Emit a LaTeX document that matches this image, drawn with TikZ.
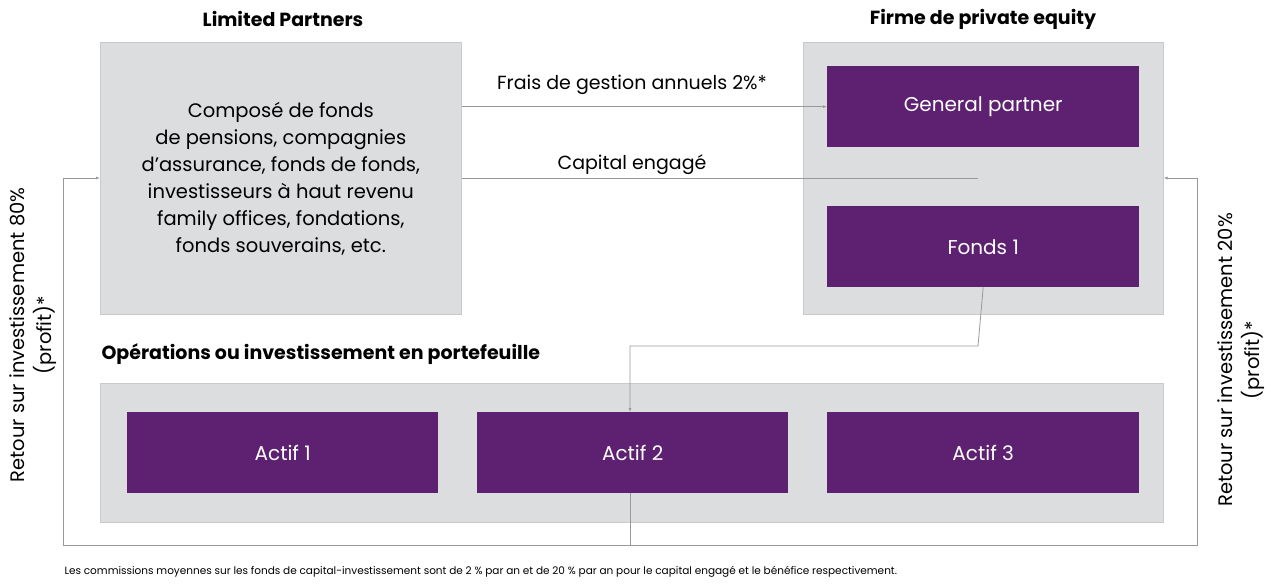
\documentclass[tikz,border=0pt]{standalone}
\usepackage{fontspec}
\setmainfont{Poppins}
\begin{document}
\begin{tikzpicture}[x=1pt,y=-1pt,
  gbox/.style={fill=gr,draw=gr!80!gray,line width=0.6pt,inner sep=0},
  pbox/.style={fill=pu,draw=none,inner sep=0,text=white,font=\fontsize{20}{24}\selectfont\addfontfeature{Weight=300}},
  ttl/.style={font=\fontsize{19}{23}\selectfont\bfseries},
  lbl/.style={font=\fontsize{19}{23}\selectfont},
  con/.style={draw=gray!80,line width=0.8pt},
  arr/.style={con,-{Latex[length=4pt,width=3pt]}}]
\usetikzlibrary{arrows.meta}
\definecolor{gr}{HTML}{DCDDDF}
\definecolor{pu}{HTML}{5E2172}
\useasboundingbox (0,0) rectangle (1280,588);
\fill[white] (0,0) rectangle (1280,588);
\node[gbox,minimum width=361,minimum height=272,anchor=north west,align=center,font=\fontsize{19.5}{27}\selectfont] (lp) at (100,42)
 {Composé de fonds\\de pensions, compagnies\\d’assurance, fonds de fonds,\\investisseurs à haut revenu\\family offices, fondations,\\fonds souverains, etc.};
\node[gbox,minimum width=360,minimum height=272,anchor=north west] (pe) at (803,42) {};
\node[gbox,minimum width=1063,minimum height=139,anchor=north west] (pf) at (100,383) {};
\node[pbox,minimum width=312,minimum height=81,anchor=north west] (gp) at (827,66) {General partner};
\node[pbox,minimum width=312,minimum height=81,anchor=north west] (f1) at (827,206) {Fonds 1};
\node[pbox,minimum width=311,minimum height=81,anchor=north west] (a1) at (127,412) {Actif 1};
\node[pbox,minimum width=311,minimum height=81,anchor=north west] (a2) at (477,412) {Actif 2};
\node[pbox,minimum width=312,minimum height=81,anchor=north west] (a3) at (827,412) {Actif 3};
\node[ttl] (tlp) at (283,19) {Limited Partners};
\node[ttl] (tpe) at (983,19) {Firme de private equity};
\node[ttl,anchor=west] (tpf) at (98,354) {Opérations ou investissement en portefeuille};
\node[lbl] (lf) at (632,85) {Frais de gestion annuels 2\%*};
\node[lbl] (lc) at (632,165) {Capital engagé};
\node[lbl,rotate=90,align=center,font=\fontsize{19.5}{27}\selectfont] (lr) at (33,335) {Retour sur investissement 80\%\\(profit)*};
\node[lbl,rotate=90,align=center,font=\fontsize{19.5}{27}\selectfont] (rr) at (1241,360) {Retour sur investissement 20\%\\(profit)*};
\node[anchor=west,font=\fontsize{10.5}{12}\selectfont] (fn) at (61,572) {Les commissions moyennes sur les fonds de capital-investissement sont de 2 \% par an et de 20 \% par an pour le capital engagé et le bénéfice respectivement.};
\coordinate (ce) at (978,178);
\draw[arr] (lp.east |- gp.west) -- (gp.west);
\draw[con] (lp.east |- ce) -- (ce);
\draw[arr] (f1.south) -- (978,346) -- (630,346) -- (a2.north -| 630,0);
\draw[arr] (a2.south -| 630,0) -- (630,545) -- (63,545) -- (63,178) -- (lp.west |- 0,178);
\draw[arr] (630,545) -- (1197,545) -- (1197,178) -- (pe.east |- 0,178);
\end{tikzpicture}
\end{document}
